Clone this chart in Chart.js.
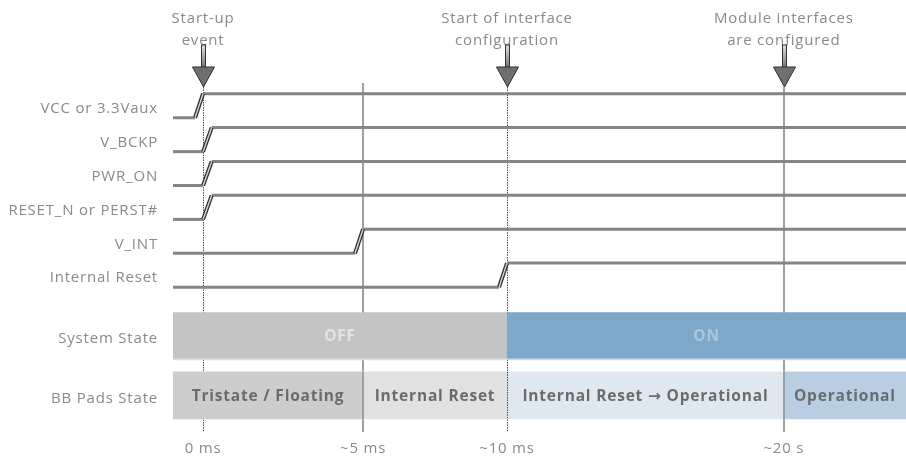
<!DOCTYPE html>
<html><head><meta charset="utf-8">
<script src="https://cdn.jsdelivr.net/npm/chart.js@4"></script>
<style>html,body{margin:0;padding:0;background:#fff;overflow:hidden}</style>
</head><body>
<canvas id="c" width="906" height="457"></canvas>
<script>
// ---- data ----
const signalNames = ['VCC or 3.3Vaux', 'V_BCKP', 'PWR_ON', 'RESET_N or PERST#', 'V_INT', 'Internal Reset'];
const signalRows  = [0, 1, 2, 3, 4, 5];
const rampStart   = [-0.25, 0, 0, 0, 4.75, 9.25];
const rampEnd     = [0, 0.27, 0.27, 0.27, 5, 9.5];
const timeStart = -0.94, timeEnd = 21.97;
const timeTicks  = [0, 5, 9.5, 18.15];
const timeLabels = ['0 ms', '~5 ms', '~10 ms', '~20 s'];
const eventTicks  = [0, 2, 3];
const eventLabels = [['Start-up', 'event'], ['Start of interface', 'configuration'], ['Module interfaces', 'are configured']];
const stateNames = ['System State', 'BB Pads State'];
const stateRows  = [6.8, 8.55];
const systemStates = ['OFF', 'ON'];
const systemSpans  = [[timeStart, 9.5], [9.5, timeEnd]];
const padStates = ['Tristate / Floating', 'Internal Reset', 'Internal Reset \u2192 Operational', 'Operational'];
const padSpans  = [[timeStart, 5], [5, 9.5], [9.5, 18.15], [18.15, timeEnd]];

// ---- styles ----
const HALF = 0.355;
const FONT = "'Open Sans', sans-serif";
const TXT = '#8a8a8a';
const SPACING = '0.8px';
const markerStyle = ['dotted', 'solid', 'dotted', 'solid'];

Chart.defaults.font.family = FONT;

const datasets = [];
signalNames.forEach((n, i) => {
  const r = signalRows[i];
  datasets.push({
    type: 'line', label: n, order: 0, clip: false,
    data: [{x: timeStart, y: r + HALF}, {x: rampStart[i], y: r + HALF}, {x: rampEnd[i], y: r - HALF}, {x: timeEnd, y: r - HALF}],
    borderColor: '#858585', borderWidth: 3, pointRadius: 0, tension: 0,
    borderCapStyle: 'butt', borderJoinStyle: 'miter',
    segment: { borderColor: c => c.p0DataIndex === 1 ? 'rgba(0,0,0,0)' : undefined }
  });
});
const SYS = datasets.length;
datasets.push({
  type: 'bar', label: stateNames[0], indexAxis: 'y', order: 1, grouped: false,
  data: systemSpans.map(s => ({x: s, y: stateRows[0]})),
  backgroundColor: ['#c4c4c4', '#7ea8c9'], borderColor: ['#dedede', '#c8d9e8'],
  borderWidth: {top: 0, left: 0, right: 0, bottom: 2}, borderSkipped: false, barThickness: 48
});
const BB = datasets.length;
datasets.push({
  type: 'bar', label: stateNames[1], indexAxis: 'y', order: 2, grouped: false,
  data: padSpans.map(s => ({x: s, y: stateRows[1]})),
  backgroundColor: ['#cdcdcd', '#e1e1e1', '#dfe8f1', '#b8cfe3'],
  borderWidth: 0, borderSkipped: false, barThickness: 47
});

const yTicks = signalRows.concat(stateRows);
const yLabels = signalNames.concat(stateNames);

function vline(ctx, X, y0, y1, style) {
  ctx.save();
  if (style === 'dotted') { ctx.strokeStyle = '#4a4a4a'; ctx.lineWidth = 1; ctx.setLineDash([1.5, 1]); X = Math.round(X) + 0.5; }
  else { ctx.strokeStyle = '#9e9e9e'; ctx.lineWidth = 2; X = Math.round(X); }
  ctx.beginPath(); ctx.moveTo(X, y0); ctx.lineTo(X, y1); ctx.stroke();
  ctx.restore();
}

// draw text centred at (cx, cy), rendering the arrow glyph with a font that has a bold arrow
function barText(ctx, str, cx, cy, size) {
  const main = "bold " + size + "px " + FONT;
  const arrowFont = "bold " + size + "px 'DejaVu Sans'";
  const parts = str.split('\u2192');
  const pieces = [];
  parts.forEach((p, i) => {
    if (i > 0) pieces.push({t: '\u2192', f: arrowFont});
    if (p) pieces.push({t: p, f: main});
  });
  let total = 0;
  pieces.forEach(pc => { ctx.font = pc.f; pc.w = ctx.measureText(pc.t).width; total += pc.w; });
  let xx = cx - total / 2;
  ctx.textAlign = 'left';
  pieces.forEach(pc => { ctx.font = pc.f; ctx.fillText(pc.t, xx, cy); xx += pc.w; });
}

const timing = {
  id: 'timing',
  beforeDraw(chart) { chart.ctx.letterSpacing = SPACING; },
  beforeDatasetsDraw(chart) {
    const {ctx, chartArea: a, scales: {x}} = chart;
    timeTicks.forEach((t, i) => {
      const top = eventTicks.includes(i) ? a.top + 5 : a.top + 1;
      vline(ctx, x.getPixelForValue(t), top, a.bottom + 1, markerStyle[i]);
    });
  },
  afterDatasetDraw(chart, args) {
    if (args.index !== BB) return;
    const {ctx, scales: {x}} = chart;
    const el = chart.getDatasetMeta(BB).data[0];
    const y0 = el.y - el.height / 2, y1 = el.y + el.height / 2;
    timeTicks.forEach((t, i) => { if (i > 0) vline(ctx, x.getPixelForValue(t), y0, y1, markerStyle[i]); });
  },
  afterDatasetsDraw(chart) {
    const {ctx, chartArea: a, scales: {x}} = chart;
    // ramps
    signalNames.forEach((n, i) => {
      const pts = chart.getDatasetMeta(i).data;
      const p1 = pts[1], p2 = pts[2];
      ctx.save();
      ctx.lineCap = 'butt';
      ctx.strokeStyle = '#2e2e2e'; ctx.lineWidth = 4;
      ctx.beginPath(); ctx.moveTo(p1.x, p1.y); ctx.lineTo(p2.x, p2.y); ctx.stroke();
      ctx.strokeStyle = '#d8d8d8'; ctx.lineWidth = 1.4;
      ctx.beginPath(); ctx.moveTo(p1.x, p1.y); ctx.lineTo(p2.x, p2.y); ctx.stroke();
      ctx.restore();
    });
    // bar texts
    ctx.save();
    ctx.textBaseline = 'middle';
    chart.getDatasetMeta(SYS).data.forEach((el, i) => {
      ctx.fillStyle = i === 0 ? '#e3e3e3' : '#a9c6de';
      barText(ctx, systemStates[i], (el.x + el.base) / 2, el.y, 15.5);
    });
    ctx.fillStyle = '#6b6b6b';
    chart.getDatasetMeta(BB).data.forEach((el, i) => {
      barText(ctx, padStates[i], (el.x + el.base) / 2, el.y + 1.5, 15.5);
    });
    // event annotations + arrows
    ctx.textAlign = 'center';
    ctx.font = "15px " + FONT; ctx.fillStyle = TXT;
    eventTicks.forEach((ti, k) => {
      const X = x.getPixelForValue(timeTicks[ti]);
      ctx.fillText(eventLabels[k][0], X, a.top - 63);
      ctx.fillText(eventLabels[k][1], X, a.top - 41);
    });
    eventTicks.forEach((ti) => {
      const X = Math.round(x.getPixelForValue(timeTicks[ti])) + 0.5;
      const g = ctx.createLinearGradient(0, a.top - 37, 0, a.top - 14);
      g.addColorStop(0, '#e0e0e0'); g.addColorStop(1, '#707070');
      ctx.fillStyle = g; ctx.strokeStyle = '#333'; ctx.lineWidth = 1;
      ctx.fillRect(X - 2, a.top - 37, 4, 23); ctx.strokeRect(X - 2, a.top - 37, 4, 23);
      ctx.beginPath();
      ctx.moveTo(X - 11, a.top - 15); ctx.lineTo(X + 11, a.top - 15); ctx.lineTo(X, a.top + 5); ctx.closePath();
      ctx.fillStyle = '#6f6f6f'; ctx.fill(); ctx.strokeStyle = '#2e2e2e'; ctx.stroke();
    });
    ctx.restore();
  }
};

new Chart(document.getElementById('c'), {
  type: 'line',
  data: { datasets },
  plugins: [timing],
  options: {
    responsive: false, animation: false, devicePixelRatio: 1,
    layout: { padding: {top: 82, left: 0, right: 0, bottom: 0} },
    plugins: { legend: {display: false}, tooltip: {enabled: false} },
    scales: {
      x: {
        type: 'linear', min: timeStart, max: timeEnd, offset: false,
        grid: {display: false, drawTicks: false, offset: false}, border: {display: false},
        afterBuildTicks: s => { s.ticks = timeTicks.map(v => ({value: v})); },
        afterFit: s => { s.height = 26; },
        ticks: { callback: (v, i) => timeLabels[i], color: TXT, font: {size: 15}, padding: 9, autoSkip: false, maxRotation: 0 }
      },
      y: {
        type: 'linear', reverse: true, min: -0.7, max: 9.6, offset: false,
        grid: {display: false, drawTicks: false, offset: false}, border: {display: false},
        afterBuildTicks: s => { s.ticks = yTicks.map(v => ({value: v})); },
        afterFit: s => { s.width = 173; },
        ticks: { callback: (v, i) => yLabels[i], color: TXT, font: {size: 15}, padding: 15, labelOffset: 3, autoSkip: false }
      }
    }
  }
});
</script>
</body></html>
